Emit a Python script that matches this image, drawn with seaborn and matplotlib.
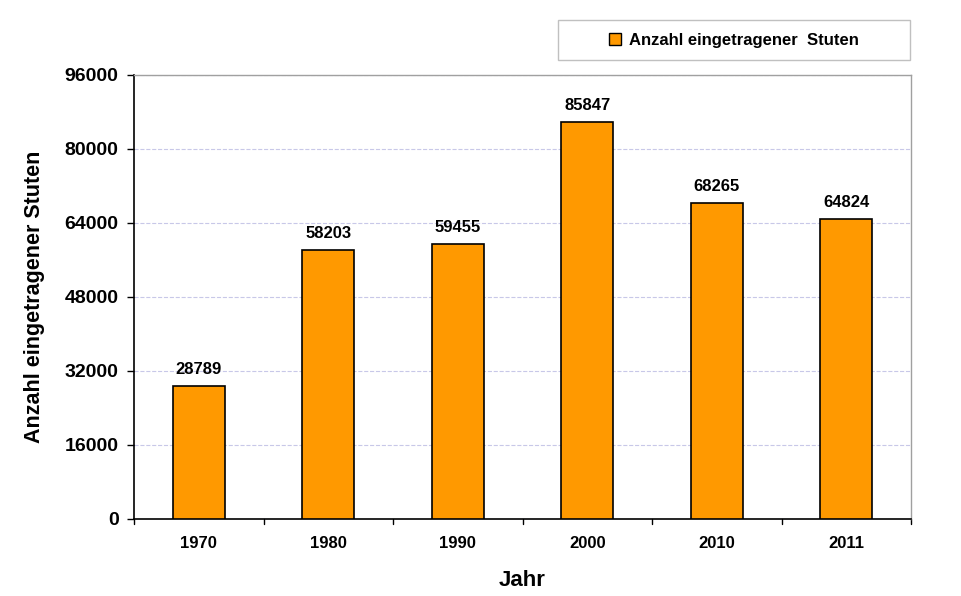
import matplotlib
matplotlib.use('Agg')
import matplotlib.pyplot as plt
import seaborn as sns
import pandas as pd
from matplotlib.patches import Patch, Rectangle

years = ['1970', '1980', '1990', '2000', '2010', '2011']
stuten = [28789, 58203, 59455, 85847, 68265, 64824]
y_ticks = [0, 16000, 32000, 48000, 64000, 80000, 96000]

sns.set_style('white')
plt.rcParams['font.family'] = ['Liberation Sans', 'DejaVu Sans']
plt.rcParams['font.weight'] = 'bold'
plt.rcParams.update({'text.color': 'black', 'axes.labelcolor': 'black',
                     'xtick.color': 'black', 'ytick.color': 'black'})

df = pd.DataFrame({'Jahr': years, 'Stuten': stuten})

fig = plt.figure(figsize=(9.62, 5.96), dpi=100)
ax = fig.add_axes([0.1393, 0.1292, 0.8077, 0.745])

sns.barplot(data=df, x='Jahr', y='Stuten', color='#FF9900', saturation=1,
            edgecolor='black', linewidth=1.2, width=0.4, ax=ax, zorder=3)

for i, v in enumerate(stuten):
    ax.text(i, v + 2000, str(v), ha='center', va='bottom',
            fontsize=12, fontweight='bold')

ax.set_ylim(0, 96000)
ax.set_xlim(-0.5, len(years) - 0.5)
ax.set_yticks(y_ticks)
ax.set_yticklabels([str(t) for t in y_ticks], fontsize=14, fontweight='bold')
ax.set_xticks(range(len(years)))
ax.set_xticklabels(years, fontsize=12, fontweight='bold')
ax.tick_params(axis='x', length=0, pad=12)
ax.tick_params(axis='y', length=5, width=1, direction='out', color='black',
               left=True, pad=6)
# tick marks between categories
for b in [k - 0.5 for k in range(len(years) + 1)]:
    ax.plot([b, b], [0, -0.011], transform=ax.get_xaxis_transform(),
            color='black', lw=1, clip_on=False)

ax.yaxis.grid(True, color='#C8C8E8', linestyle='--', linewidth=0.8, zorder=0)
ax.set_axisbelow(True)

for side in ['top', 'right']:
    ax.spines[side].set_color('#A0A0A0')
    ax.spines[side].set_linewidth(1)
for side in ['left', 'bottom']:
    ax.spines[side].set_color('black')
    ax.spines[side].set_linewidth(1.2)

ax.set_xlabel('Jahr', fontsize=16, fontweight='bold', labelpad=14)
ax.set_ylabel('Anzahl eingetragener Stuten', fontsize=15.5, fontweight='bold', labelpad=14)

# legend box drawn by hand to match the wide frame of the reference
fig.patches.append(Rectangle((558 / 962, 1 - 60 / 596), 352 / 962, 40 / 596,
                             transform=fig.transFigure, facecolor='white',
                             edgecolor='#C0C0C0', linewidth=1))
handle = Patch(facecolor='#FF9900', edgecolor='black', linewidth=1)
fig.legend([handle], ['Anzahl eingetragener  Stuten'],
           loc='center', bbox_to_anchor=(734 / 962, 1 - 40 / 596),
           prop={'size': 12, 'weight': 'bold'}, frameon=False,
           handlelength=0.75, handleheight=0.75, handletextpad=0.5)

fig.savefig('out.png', dpi=100)
plt.close()
